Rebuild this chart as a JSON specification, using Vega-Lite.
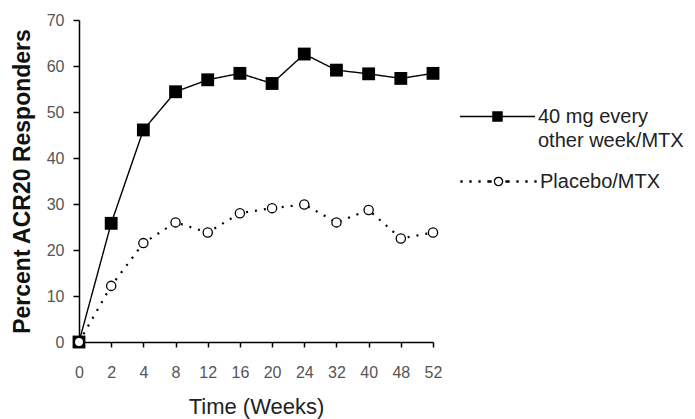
{
  "$schema": "https://vega.github.io/schema/vega-lite/v6.json",
  "width": 354,
  "height": 322,
  "autosize": {"type": "none"},
  "padding": {"left": 79, "top": 20, "right": 262, "bottom": 77},
  "background": "white",
  "config": {
    "view": {"stroke": null},
    "font": "Liberation Sans",
    "style": {"guide-label": {"lineHeight": 24}}
  },
  "data": {
    "values": [
      {"week": "0", "series": "40 mg every other week/MTX", "value": 0},
      {"week": "2", "series": "40 mg every other week/MTX", "value": 25.8},
      {"week": "4", "series": "40 mg every other week/MTX", "value": 46.1},
      {"week": "8", "series": "40 mg every other week/MTX", "value": 54.4},
      {"week": "12", "series": "40 mg every other week/MTX", "value": 57.0},
      {"week": "16", "series": "40 mg every other week/MTX", "value": 58.4},
      {"week": "20", "series": "40 mg every other week/MTX", "value": 56.2},
      {"week": "24", "series": "40 mg every other week/MTX", "value": 62.6},
      {"week": "32", "series": "40 mg every other week/MTX", "value": 59.1},
      {"week": "40", "series": "40 mg every other week/MTX", "value": 58.3},
      {"week": "48", "series": "40 mg every other week/MTX", "value": 57.3},
      {"week": "52", "series": "40 mg every other week/MTX", "value": 58.4},
      {"week": "0", "series": "Placebo/MTX", "value": 0},
      {"week": "2", "series": "Placebo/MTX", "value": 12.2},
      {"week": "4", "series": "Placebo/MTX", "value": 21.5},
      {"week": "8", "series": "Placebo/MTX", "value": 26.0},
      {"week": "12", "series": "Placebo/MTX", "value": 23.8},
      {"week": "16", "series": "Placebo/MTX", "value": 28.0},
      {"week": "20", "series": "Placebo/MTX", "value": 29.1},
      {"week": "24", "series": "Placebo/MTX", "value": 29.9},
      {"week": "32", "series": "Placebo/MTX", "value": 26.0},
      {"week": "40", "series": "Placebo/MTX", "value": 28.7},
      {"week": "48", "series": "Placebo/MTX", "value": 22.5},
      {"week": "52", "series": "Placebo/MTX", "value": 23.8}
    ]
  },
  "encoding": {
    "x": {
      "field": "week",
      "type": "ordinal",
      "scale": {"type": "point", "padding": 0, "domain": ["0","2","4","8","12","16","20","24","32","40","48","52"]},
      "axis": {
        "title": "Time (Weeks)",
        "titleFont": "Liberation Sans",
        "titleFontSize": 22,
        "titleFontWeight": "normal",
        "titleColor": "#222",
        "titlePadding": 16,
        "labelAngle": 0,
        "labelFontSize": 16,
        "labelColor": "#555",
        "labelPadding": 17,
        "domainColor": "#000",
        "domainWidth": 1.5,
        "tickColor": "#000",
        "tickWidth": 1.5,
        "tickSize": 5,
        "grid": false
      }
    },
    "y": {
      "field": "value",
      "type": "quantitative",
      "scale": {"domain": [0, 70], "nice": false},
      "axis": {
        "title": "Percent ACR20 Responders",
        "titleFont": "Liberation Sans",
        "titleFontSize": 23,
        "titleFontWeight": "bold",
        "titleColor": "#111",
        "titlePadding": 12,
        "values": [0,10,20,30,40,50,60,70],
        "labelFontSize": 16,
        "labelColor": "#555",
        "labelPadding": 9,
        "domainColor": "#000",
        "domainWidth": 1.5,
        "tickColor": "#000",
        "tickWidth": 1.5,
        "tickSize": 6,
        "grid": false
      }
    }
  },
  "layer": [
    {
      "mark": {"type": "line", "color": "#000"},
      "encoding": {
        "strokeDash": {
          "field": "series",
          "type": "nominal",
          "scale": {"domain": ["40 mg every other week/MTX", "Placebo/MTX"], "range": [[1, 0], [2, 7]]},
          "legend": null
        },
        "strokeWidth": {
          "condition": {"test": "datum.series == 'Placebo/MTX'", "value": 2.2},
          "value": 1.4
        }
      }
    },
    {
      "transform": [{"filter": "datum.series == '40 mg every other week/MTX'"}],
      "mark": {"type": "point", "shape": "square", "filled": true, "size": 165, "opacity": 1},
      "encoding": {
        "fill": {
          "field": "series",
          "type": "nominal",
          "scale": {"range": ["#000"]},
          "legend": {
            "title": null,
            "orient": "none",
            "legendX": 381,
            "legendY": 59,
            "symbolSize": 5625,
            "symbolType": "M -1 -0.02 H 1 V 0.02 H -1 Z M -0.14 -0.14 H 0.14 V 0.14 H -0.14 Z",
            "symbolStrokeWidth": 0,
            "symbolOpacity": 1,
            "labelFont": "Liberation Sans",
            "labelFontSize": 20,
            "labelColor": "#222",
            "labelOffset": 3,
            "labelLimit": 300,
            "labelExpr": "['40 mg every', 'other week/MTX']"
          }
        }
      }
    },
    {
      "transform": [{"filter": "datum.series == 'Placebo/MTX'"}],
      "mark": {"type": "point", "shape": "circle", "fill": "#fff", "strokeWidth": 1.3, "size": 85, "opacity": 1},
      "encoding": {
        "stroke": {
          "field": "series",
          "type": "nominal",
          "scale": {"range": ["#000"]},
          "legend": {
            "title": null,
            "orient": "none",
            "legendX": 381,
            "legendY": 123,
            "symbolSize": 5625,
            "symbolType": "M -1 -0.013 H -0.973 V 0.013 H -1 Z M -0.76 -0.013 H -0.733 V 0.013 H -0.76 Z M -0.52 -0.013 H -0.493 V 0.013 H -0.52 Z M -0.28 -0.013 H -0.2 V 0.013 H -0.28 Z M 0.2 -0.013 H 0.28 V 0.013 H 0.2 Z M 0.493 -0.013 H 0.52 V 0.013 H 0.493 Z M 0.733 -0.013 H 0.76 V 0.013 H 0.733 Z M 0.973 -0.013 H 1 V 0.013 H 0.973 Z M 0.11 0 A 0.11 0.11 0 1 0 -0.11 0 A 0.11 0.11 0 1 0 0.11 0 Z",
            "symbolFillColor": "#fff",
            "symbolStrokeWidth": 1.3,
            "symbolOpacity": 1,
            "labelFont": "Liberation Sans",
            "labelFontSize": 20,
            "labelColor": "#222",
            "labelOffset": 3,
            "labelLimit": 300
          }
        }
      }
    }
  ]
}
